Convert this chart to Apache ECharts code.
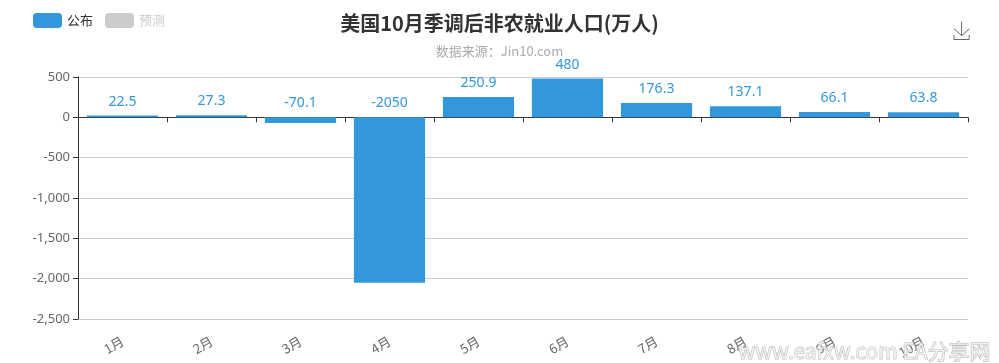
<!DOCTYPE html>
<html><head><meta charset="utf-8">
<script src="https://cdn.jsdelivr.net/npm/echarts@6/dist/echarts.min.js"></script>
<style>html,body{margin:0;padding:0;background:#fff}#c{width:999px;height:363px}</style>
</head><body><div id="c"></div>
<script>
const categories = ['1月','2月','3月','4月','5月','6月','7月','8月','9月','10月'];
const publishedValues = [22.5, 27.3, -70.1, -2050, 250.9, 480, 176.3, 137.1, 66.1, 63.8];
const forecastValues = [];
const yTicks = {min: -2500, max: 500, interval: 500};

const chart = echarts.init(document.getElementById('c'));
chart.setOption({
  animation: false,
  title: {
    text: '美国10月季调后非农就业人口(万人)',
    subtext: '数据来源：Jin10.com',
    left: 'center', top: 8, itemGap: 12,
    textStyle: {fontSize: 20, fontWeight: 'bold', color: '#333', fontFamily: 'Noto Sans CJK SC'},
    subtextStyle: {fontSize: 13, color: '#aaa', fontFamily: 'Noto Sans CJK SC'}
  },
  legend: {
    left: 28, top: 8, itemWidth: 29, itemHeight: 15, itemGap: 12,
    data: ['公布','预测'],
    selected: {'公布': true, '预测': false},
    textStyle: {color: '#333', fontSize: 13, fontFamily: 'Noto Sans CJK SC'},
    inactiveColor: '#ccc'
  },
  toolbox: {right: 12, top: 4, itemSize: 18, feature: {saveAsImage: {title: ''}}, iconStyle: {borderColor: '#666'}},
  grid: {left: 78, right: 31, top: 77, bottom: 44},
  xAxis: [{
    type: 'category', data: categories,
    axisLine: {onZero: true, lineStyle: {color: '#333'}},
    axisTick: {show: true},
    axisLabel: {show: false}
  }, {
    type: 'category', data: categories, position: 'bottom',
    axisLine: {show: false}, axisTick: {show: false},
    axisLabel: {rotate: 30, margin: 21, color: '#666', fontSize: 13, fontFamily: 'Noto Sans CJK SC'}
  }],
  yAxis: {
    type: 'value', min: yTicks.min, max: yTicks.max, interval: yTicks.interval,
    axisLine: {show: true, lineStyle: {color: '#333'}},
    axisTick: {show: true},
    axisLabel: {color: '#666', fontSize: 13, fontFamily: 'Noto Sans'},
    splitLine: {lineStyle: {color: '#ccc'}}
  },
  series: [{
    name: '公布', type: 'bar', data: publishedValues, barWidth: '80%', xAxisIndex: 0,
    itemStyle: {color: '#3398DB'},
    label: {show: true, position: 'top', distance: 7, color: '#3398DB', fontSize: 14, fontFamily: 'Noto Sans'}
  }, {
    name: '预测', type: 'bar', data: forecastValues, barWidth: '80%', xAxisIndex: 0,
    itemStyle: {color: '#ccc'}
  }],
  graphic: [{
    type: 'text', right: 8, bottom: 1, z: 100,
    style: {text: 'www.eafxw.com EA分享网', fontSize: 21, fontFamily: 'Noto Sans CJK SC', fill: 'rgba(255,255,255,0.6)', stroke: '#bbb', lineWidth: 1}
  }]
});
</script></body></html>
